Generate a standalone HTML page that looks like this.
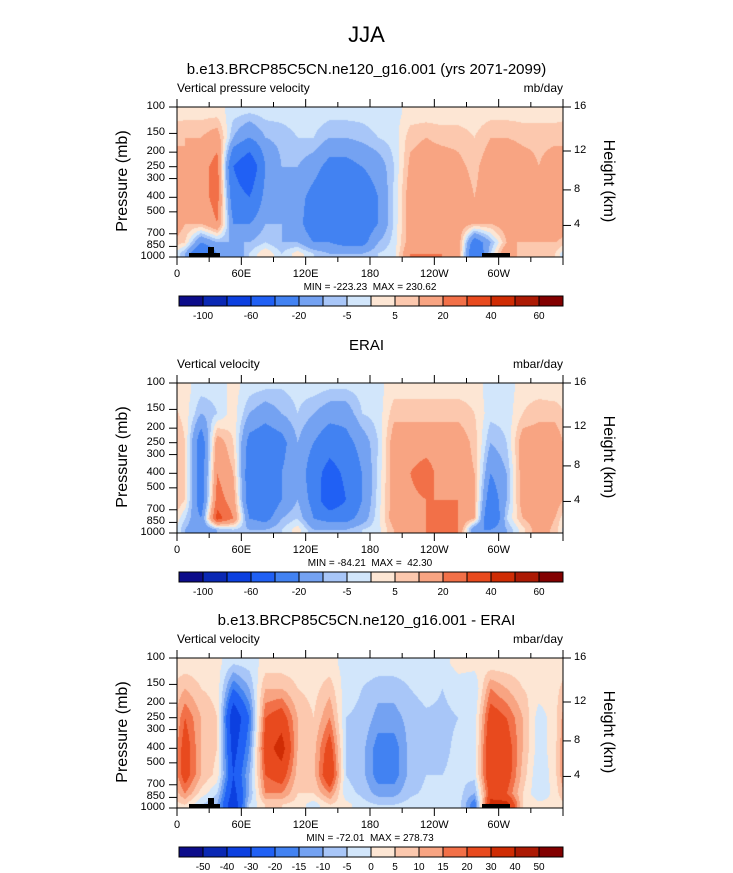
<!DOCTYPE html>
<html><head><meta charset="utf-8"><style>
body{margin:0;background:#fff;}
#root{position:relative;width:733px;height:873px;overflow:hidden;font-family:"Liberation Sans",sans-serif;color:#000;}
.t{position:absolute;white-space:pre;}
canvas{position:absolute;}
</style></head><body>
<div id="root">
<div class="t" style="left:0;width:733px;text-align:center;top:22px;font-size:22px;">JJA</div>
</div>
<script>
// ---- data ----
const lonCenters=[7.5,22.5,37.5,52.5,67.5,82.5,97.5,112.5,127.5,142.5,157.5,172.5,187.5,202.5,217.5,232.5,247.5,262.5,277.5,292.5,307.5,322.5,337.5,352.5];
const presNodes=[110,160,250,400,600,800,950];
const pressureTicks=[100,150,200,250,300,400,500,700,850,1000];
const heightTicks=[16,12,8,4];
const heightTickPres=[100,196.5,357,616];
const lonTicks=[0,60,120,180,240,300];
const lonTickLabels=["0","60E","120E","180","120W","60W"];
const levelsTop=[-100,-80,-60,-40,-20,-10,-5,0,5,10,20,30,40,50,60];
const levelLabelsTop=["","-100","","-60","","-20","","-5","","5","","20","","40","","60"];
const levelsDiff=[-50,-40,-30,-20,-15,-10,-5,0,5,10,15,20,30,40,50];
const colors=["#0c0c8a","#0a28b4","#0c40e0","#2060f4","#4282f2","#74a2f2","#a8c6f8","#d2e6fb","#fde6d4","#fcc8ae","#f8a482","#f27048","#e84a1e","#cf2c04","#ac1a04","#820000"];
// columns: rows top(100mb) -> bottom(1000mb)
const field1=[[3,10,10,10,10,5,-10],[3,10,15,15,10,-20,-40],[3,15,25,25,20,-10,-20],[-3,-10,-40,-30,-20,-10,-20],[-5,-20,-60,-40,-20,-10,-5],[-3,-10,-20,-15,-10,-5,5],[-3,-8,-10,-10,-10,-10,-5],[-2,-5,-10,-15,-15,-10,3],[-2,-5,-15,-25,-30,-20,-5],[-3,-10,-25,-35,-40,-20,-10],[-3,-10,-25,-35,-35,-25,-10],[-3,-8,-20,-30,-30,-25,-10],[-2,-5,-15,-20,-20,-10,-5],[-2,-3,-5,-4,-4,-3,-2],[2,8,12,15,15,15,20],[2,10,15,15,15,15,20],[2,8,15,15,15,15,20],[2,8,12,15,15,15,15],[2,5,8,10,10,-30,-40],[3,10,15,15,10,-10,-5],[3,10,20,20,15,10,20],[3,8,15,15,15,10,5],[3,8,10,12,15,10,10],[3,8,15,20,20,10,5]];
const field2=[[2,3,5,5,5,-5,-10],[-3,-10,-30,-30,-30,-20,-20],[-3,-5,15,20,25,35,-10],[2,3,5,10,15,20,-5],[-3,-10,-25,-30,-30,-20,-10],[-5,-15,-30,-40,-35,-25,-10],[-5,-10,-25,-20,-20,-10,-5],[-3,-5,-10,-10,-10,-5,3],[-3,-10,-20,-30,-25,-20,-10],[-5,-15,-30,-50,-60,-25,-10],[-5,-15,-25,-35,-40,-25,-10],[-3,-5,-15,-20,-20,-15,-5],[-2,-3,-5,-4,-3,-2,-2],[3,8,15,15,15,15,10],[3,8,15,20,18,20,15],[3,8,15,25,20,20,20],[3,8,15,15,20,20,20],[3,8,15,15,20,20,20],[3,5,8,10,10,10,-20],[-3,-3,-10,-20,-30,-40,-20],[-3,-3,-5,-10,-10,-5,-10],[3,5,15,15,15,10,3],[3,8,15,15,20,15,15],[2,8,15,15,15,10,8]];
const field3=[[2,10,20,25,25,15,5],[2,5,10,10,10,3,-5],[2,3,5,5,3,-5,-10],[-5,-20,-40,-35,-30,-35,-40],[-3,-10,-20,-15,-10,-10,-5],[2,10,20,25,20,15,5],[2,10,25,35,25,15,5],[2,5,10,10,8,5,3],[2,3,5,8,8,5,-3],[2,8,15,25,30,15,5],[-2,-3,-5,-5,-5,-3,2],[-2,-5,-6,-8,-8,-6,-3],[-2,-8,-12,-18,-18,-12,-5],[-2,-8,-12,-18,-18,-12,-5],[-2,-5,-8,-8,-8,-6,-3],[-2,-3,-6,-6,-5,-4,-2],[-2,-5,-6,-6,-5,-4,-2],[2,-3,-5,-4,-4,-3,-2],[2,-5,-3,-3,-3,-10,-20],[2,15,25,30,30,25,35],[2,10,20,25,25,20,35],[2,5,10,10,8,5,5],[2,3,-3,-3,-5,-5,2],[2,3,3,3,3,2,2]];
const panelTitles=["b.e13.BRCP85C5CN.ne120_g16.001 (yrs 2071-2099)","ERAI","b.e13.BRCP85C5CN.ne120_g16.001 - ERAI"];
const leftStrings=["Vertical pressure velocity","Vertical velocity","Vertical velocity"];
const rightStrings=["mb/day","mbar/day","mbar/day"];
const minMax=["MIN = -223.23  MAX = 230.62","MIN = -84.21  MAX =  42.30","MIN = -72.01  MAX = 278.73"];
// ---- layout ----
const root=document.getElementById('root');
const X0=177,PW=386,PH=150;
const offsets=[107,383,658];
function xOf(lon){return X0+lon/360*PW;}
function yOf(p,top){return top+Math.log(p/100)/Math.log(10)*PH;}
function text(s,l,t,fs,name,extra){const d=document.createElement('div');d.className='t';d.textContent=s;d.style.left=l+'px';d.style.top=t+'px';d.style.fontSize=fs+'px';if(extra)Object.assign(d.style,extra);


root.appendChild(d);return d;}
function colorIdx(v,lev){let i=0;while(i<lev.length&&v>=lev[i])i++;return i;}
function sample(f,lon,p){
 let fx=(lon-7.5)/15;let i0=Math.floor(fx);let tx=fx-i0;let a=((i0%24)+24)%24,b=(a+1)%24;
 const lp=Math.log(p);const ln=presNodes.map(Math.log);
 let j=0;while(j<ln.length-2&&lp>ln[j+1])j++;
 let ty=(lp-ln[j])/(ln[j+1]-ln[j]);ty=Math.max(0,Math.min(1,ty));
 const v00=f[a][j],v01=f[a][j+1],v10=f[b][j],v11=f[b][j+1];
 return (v00*(1-ty)+v01*ty)*(1-tx)+(v10*(1-ty)+v11*ty)*tx;
}
const svgNS="http://www.w3.org/2000/svg";
const svg=document.createElementNS(svgNS,'svg');svg.setAttribute('width',733);svg.setAttribute('height',873);svg.style.position='absolute';svg.style.left='0';svg.style.top='0';


function line(x1,y1,x2,y2,w,name){const l=document.createElementNS(svgNS,'line');l.setAttribute('x1',x1);l.setAttribute('y1',y1);l.setAttribute('x2',x2);l.setAttribute('y2',y2);l.setAttribute('stroke','#000');l.setAttribute('stroke-width',w||1);


svg.appendChild(l);}
function rect(x,y,w,h,fill,name,stroke){const r=document.createElementNS(svgNS,'rect');r.setAttribute('x',x);r.setAttribute('y',y);r.setAttribute('width',w);r.setAttribute('height',h);r.setAttribute('fill',fill);if(stroke){r.setAttribute('stroke',stroke);r.setAttribute('stroke-width',1);}


svg.appendChild(r);}
const fields=[field1,field2,field3];
const levs=[levelsTop,levelsTop,levelsDiff];
fields.forEach((f,k)=>{
 const top=offsets[k];
 const cv=document.createElement('canvas');cv.width=PW;cv.height=PH;cv.style.left=X0+'px';cv.style.top=top+'px';
 
 
 root.appendChild(cv);
 const ctx=cv.getContext('2d');
 for(let py=0;py<PH;py++){const p=100*Math.pow(10,(py+0.5)/PH);
  for(let px=0;px<PW;px++){const lon=(px+0.5)/PW*360;
   ctx.fillStyle=colors[colorIdx(sample(f,lon,p),levs[k])];ctx.fillRect(px,py,1,1);}}
 if(k!==1){rect(189,top+146,31,4,'#000','topography-africa');rect(208,top+140,6,10,'#000','topography-east-africa');rect(482,top+146,28,4,'#000','topography-andes');}
 rect(X0,top,PW,PH,'none','plot-frame-'+(k+1),'#000');
 text(panelTitles[k],0,top-46,15,'panel-title-'+(k+1),{width:'733px',textAlign:'center'});
 text(leftStrings[k],X0,top-26,12,'left-string-'+(k+1));
 text(rightStrings[k],X0+PW-80,top-26,12,'right-string-'+(k+1),{width:'80px',textAlign:'right'});
 pressureTicks.forEach(p=>{const y=yOf(p,top);line(X0-8,y,X0,y,1,'pressure-tick');text(String(p),X0-50,y-7,11,'pressure-label',{width:'38px',textAlign:'right'});});
 heightTicks.forEach((h,i)=>{const y=yOf(heightTickPres[i],top);line(X0+PW,y,X0+PW+8,y,1,'height-tick');text(String(h),X0+PW+11,y-7,11,'height-label');});
 for(let lon=0;lon<=360;lon+=30){const x=xOf(lon);const len=lon%60===0?8:5;line(x,top+PH,x,top+PH+len,1,'lon-tick');line(x,top,x,top-len,1,'lon-tick-top');}
 lonTicks.forEach((lon,i)=>{const x=xOf(lon);text(lonTickLabels[i],x-25,top+PH+11,11,'lon-label',{width:'50px',textAlign:'center'});});
 text('Pressure (mb)',123-60,top+PH/2-10,16,'y-axis-title',{width:'120px',textAlign:'center',transform:'rotate(-90deg)'});
 text('Height (km)',608-50,top+PH/2-10,16,'y2-axis-title',{width:'100px',textAlign:'center',transform:'rotate(90deg)'});
 text(minMax[k],270,top+PH+25,10,'min-max-'+(k+1),{width:'200px',textAlign:'center'});
 const cy=top+189,cw=(563-179)/16;
 colors.forEach((c,i)=>rect(179+i*cw,cy,cw,10,c,'colorbar-box',"#000"));
 for(let i=1;i<16;i++){let lab=k===2?String(levelsDiff[i-1]):levelLabelsTop[i];if(lab)text(lab,179+i*cw-20,cy+15,10,'colorbar-label',{width:'40px',textAlign:'center'});}
});
root.appendChild(svg);
</script>
</body></html>
